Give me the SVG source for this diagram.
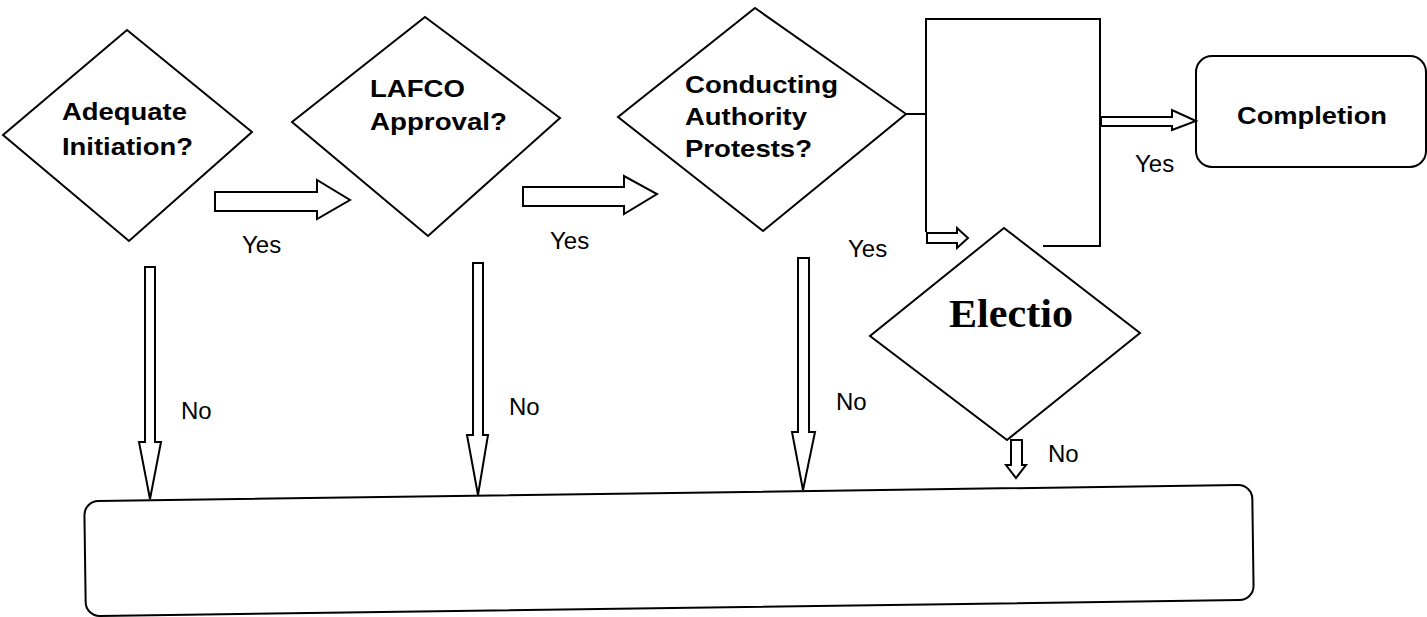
<svg xmlns="http://www.w3.org/2000/svg" width="1427" height="617" viewBox="0 0 1427 617">
<style>
.s{fill:#fff;stroke:#000;stroke-width:2;stroke-linejoin:miter}
.l{fill:none;stroke:#000;stroke-width:2}
.b{font-family:"Liberation Sans",Arial,sans-serif;font-weight:bold;font-size:24px;fill:#000}
.r{font-family:"Liberation Sans",Arial,sans-serif;font-size:24px;fill:#000}
.e{font-family:"Liberation Serif","Times New Roman",serif;font-weight:bold;font-size:39px;fill:#000}
</style>
<rect width="1427" height="617" fill="#fff"/>
<g id="node-adequate">
<polygon class="s" points="127,30 252,132 129,241 3,135"/>
<text class="b" x="62" y="120" textLength="125" lengthAdjust="spacingAndGlyphs">Adequate</text>
<text class="b" x="62" y="155" textLength="131" lengthAdjust="spacingAndGlyphs">Initiation?</text>
</g>
<g id="node-lafco">
<polygon class="s" points="425,17 560,118 428,236 292,122"/>
<text class="b" x="370" y="97" textLength="95" lengthAdjust="spacingAndGlyphs">LAFCO</text>
<text class="b" x="370" y="130" textLength="137" lengthAdjust="spacingAndGlyphs">Approval?</text>
</g>
<g id="node-protests">
<polygon class="s" points="755,8 906,114 763,231 618,117"/>
<text class="b" x="685" y="93" textLength="153" lengthAdjust="spacingAndGlyphs">Conducting</text>
<text class="b" x="685" y="125" textLength="122" lengthAdjust="spacingAndGlyphs">Authority</text>
<text class="b" x="685" y="157" textLength="127" lengthAdjust="spacingAndGlyphs">Protests?</text>
</g>
<g id="node-election">
<polygon class="s" points="1004,228 1140,333 1007,440 870,336"/>
<text class="e" x="949" y="327" textLength="124" lengthAdjust="spacingAndGlyphs">Electio</text>
</g>
<g id="node-completion">
<rect class="s" x="1196" y="56" width="230" height="111" rx="16"/>
<text class="b" x="1237" y="124" textLength="150" lengthAdjust="spacingAndGlyphs">Completion</text>
</g>
<g id="node-bottom">
<rect class="s" x="85" y="493" width="1168" height="115" rx="14" transform="rotate(-0.8 669 551)"/>
</g>
<g id="connectors">
<polygon class="s" points="215,192 317,192 317,180 350,200 317,219 317,211 215,211"/>
<polygon class="s" points="523,187 624,187 624,176 657,194 624,214 624,206 523,206"/>
<polyline class="l" points="906,114 926,114"/>
<polyline class="l" points="926,232 926,19 1100,19 1100,246 1043,246"/>
<polygon class="s" points="927,233 957,233 957,228 968,238 957,248 957,243 927,243"/>
<polygon class="s" points="1101,117 1172,117 1172,110 1196,121 1172,130 1172,126 1101,126"/>
<polygon class="s" points="1011,440 1022,440 1022,465 1026,465 1016,478 1006,465 1011,465"/>
<polygon class="s" points="145,267 155,267 155,442 161,442 150,499 139,442 145,442"/>
<polygon class="s" points="473,263 483,263 483,435 488,435 478,495 467,435 473,435"/>
<polygon class="s" points="798,258 809,258 809,432 815,432 803,490 792,432 798,432"/>
<text class="r" x="242" y="253">Yes</text>
<text class="r" x="550" y="249">Yes</text>
<text class="r" x="848" y="257">Yes</text>
<text class="r" x="1135" y="172">Yes</text>
<text class="r" x="181" y="419">No</text>
<text class="r" x="509" y="415">No</text>
<text class="r" x="836" y="410">No</text>
<text class="r" x="1048" y="462">No</text>
</g>
</svg>
